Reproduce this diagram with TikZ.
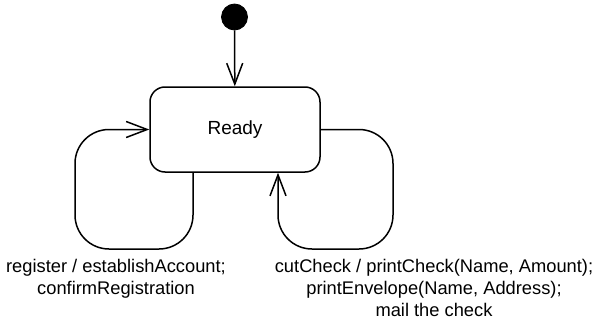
\documentclass[tikz,border=0pt]{standalone}
\usepackage{fontspec}
\setmainfont{Liberation Sans}
\usetikzlibrary{arrows.meta}
\begin{document}
\begin{tikzpicture}[x=1pt,y=-1pt,
  line width=1.5pt,
  vee/.style={-{Straight Barb[length=21pt,width=16pt,line width=1.5pt]}},
  state/.style={draw,rounded corners=15pt,minimum width=170pt,minimum height=85pt,inner sep=0pt},
  initial/.style={circle,fill=black,draw=black,line width=0.8pt,minimum size=26pt,inner sep=0pt},
  loop path/.style={rounded corners=34pt},
  lbl/.style={align=center,font=\fontsize{18.3}{22.2}\selectfont,inner sep=0pt}]
  \useasboundingbox (0,0) rectangle (600,324);

  % states
  \node[initial] (init) at (234.5,17) {};
  \node[state,font=\fontsize{19}{22}\selectfont] (ready) at (235,129.5) {Ready};

  % initial transition
  \draw[vee] (init) -- (ready);

  % corner points of the two self-transitions
  \coordinate (lb) at (193,249);
  \coordinate (lc) at (75,249);
  \coordinate (rb) at (393,249);
  \coordinate (rc) at (278,249);

  % register loop (left)
  \draw[vee,loop path] (ready.south -| lb) -- (lb) -- (lc) |- (ready.west);
  % cutCheck loop (right)
  \draw[vee,loop path] (ready.east) -| (rb) -- (rc) -- (ready.south -| rc);

  % transition labels
  \node[lbl,anchor=north] (lregister) at (116,258)
    {register / establishAccount;\\confirmRegistration};
  \node[lbl,anchor=north] (lcut) at (434,258)
    {cutCheck / printCheck(Name, Amount);\\printEnvelope(Name, Address);\\mail the check};
\end{tikzpicture}
\end{document}
